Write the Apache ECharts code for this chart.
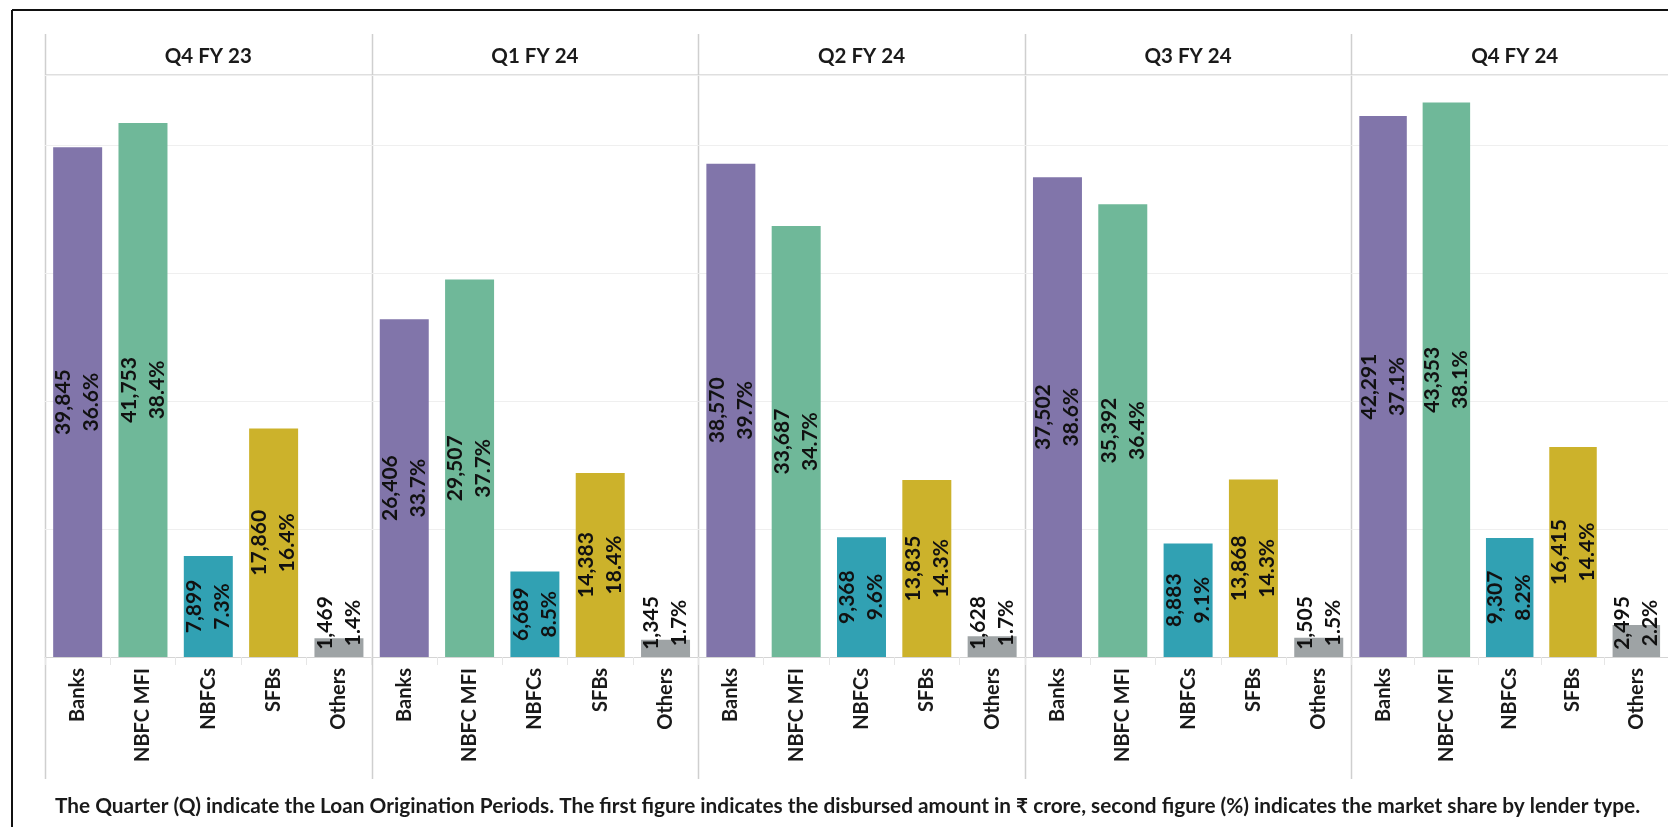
<!DOCTYPE html>
<html>
<head>
<meta charset="utf-8">
<title>Microfinance disbursements by lender type</title>
<script src="https://cdn.jsdelivr.net/npm/echarts@6/dist/echarts.min.js"></script>
<style>
  html, body { margin: 0; padding: 0; background: #ffffff; }
  #chart { width: 1668px; height: 827px; }
</style>
</head>
<body>
<div id="chart"></div>
<script>
// Quarters (panels) and lender types (bars within each panel)
const quarters = ['Q4 FY 23', 'Q1 FY 24', 'Q2 FY 24', 'Q3 FY 24', 'Q4 FY 24'];
const lenders = ['Banks', 'NBFC MFI', 'NBFCs', 'SFBs', 'Others'];

// Disbursed amount (₹ crore) per quarter, and market share (%)
const banks = [39845, 26406, 38570, 37502, 42291];
const banksShare = [36.6, 33.7, 39.7, 38.6, 37.1];
const nbfcMfi = [41753, 29507, 33687, 35392, 43353];
const nbfcMfiShare = [38.4, 37.7, 34.7, 36.4, 38.1];
const nbfcs = [7899, 6689, 9368, 8883, 9307];
const nbfcsShare = [7.3, 8.5, 9.6, 9.1, 8.2];
const sfbs = [17860, 14383, 13835, 13868, 16415];
const sfbsShare = [16.4, 18.4, 14.3, 14.3, 14.4];
const others = [1469, 1345, 1628, 1505, 2495];
const othersShare = [1.4, 1.7, 1.7, 1.5, 2.2];

const note = 'The Quarter (Q) indicate the Loan Origination Periods. The first figure indicates the disbursed amount in \u20B9 crore, second figure (%) indicates the market share by lender type.';

// Styling
const lenderColors = ['#8175aa', '#6fb899', '#31a1b3', '#ccb22b', '#9ea3a5'];
const FONT = 'Lato, "Open Sans", sans-serif';
const AXIS_MAX = 45500;
const AXIS_STEP = 10000;

// Panel geometry
const PANEL_LEFT = 45;
const PANEL_W = 326.6;
const PLOT_TOP = 75;
const PLOT_BOTTOM = 657;
const HEADER_TOP = 34;
const SEP_BOTTOM = 779;
const W = 1668, H = 827;

const amounts = [banks, nbfcMfi, nbfcs, sfbs, others];
const shares = [banksShare, nbfcMfiShare, nbfcsShare, sfbsShare, othersShare];

const fmt = v => v.toLocaleString('en-US');

const grids = [], xAxes = [], yAxes = [], series = [];
quarters.forEach((q, qi) => {
  grids.push({
    left: PANEL_LEFT + qi * PANEL_W,
    top: PLOT_TOP,
    width: PANEL_W,
    height: PLOT_BOTTOM - PLOT_TOP,
    containLabel: false
  });
  xAxes.push({
    type: 'category',
    gridIndex: qi,
    data: lenders,
    axisLine: { show: true, lineStyle: { color: '#d4d4d4', width: 1 } },
    axisTick: { show: true, length: 8, lineStyle: { color: '#e6e6e6' } },
    axisLabel: {
      rotate: 90,
      margin: 11,
      fontFamily: FONT,
      fontWeight: 'bold',
      fontSize: 20,
      color: '#1a1a1a'
    }
  });
  yAxes.push({
    type: 'value',
    gridIndex: qi,
    min: 0,
    max: AXIS_MAX,
    interval: AXIS_STEP,
    axisLine: { show: false },
    axisTick: { show: false },
    axisLabel: { show: false },
    splitLine: { show: true, lineStyle: { color: '#efefef', width: 1 } }
  });
  const data = lenders.map((name, li) => {
    const v = amounts[li][qi];
    // short bars cannot hold the text: anchor it just above the baseline
    const short = v < AXIS_MAX * 0.12;
    return {
      value: v,
      share: shares[li][qi],
      itemStyle: { color: lenderColors[li] },
      label: short
        ? { position: 'insideBottom', distance: 34 }
        : { position: 'inside' }
    };
  });
  series.push({
    type: 'bar',
    name: q,
    xAxisIndex: qi,
    yAxisIndex: qi,
    barCategoryGap: '25%',
    data: data,
    label: {
      show: true,
      rotate: 90,
      align: 'center',
      verticalAlign: 'middle',
      fontFamily: FONT,
      fontWeight: 'bold',
      fontSize: 21,
      lineHeight: 28,
      color: '#111111',
      formatter: p => fmt(p.data.value) + '\n' + p.data.share.toFixed(1) + '%'
    }
  });
});

// Frame, panel separators, header strip, panel titles and footnote
const graphics = [];
graphics.push({ type: 'line', shape: { x1: 12, y1: 10, x2: W, y2: 10 }, style: { stroke: '#111', lineWidth: 2 } });
graphics.push({ type: 'line', shape: { x1: 12, y1: 10, x2: 12, y2: H }, style: { stroke: '#111', lineWidth: 2 } });
graphics.push({ type: 'line', shape: { x1: PANEL_LEFT, y1: PLOT_TOP, x2: W, y2: PLOT_TOP }, style: { stroke: '#d4d4d4', lineWidth: 1.5 } });
quarters.forEach((q, qi) => {
  const x = Math.round(PANEL_LEFT + qi * PANEL_W) + 0.5;
  graphics.push({ type: 'line', shape: { x1: x, y1: HEADER_TOP, x2: x, y2: SEP_BOTTOM }, style: { stroke: '#cfcfcf', lineWidth: 1.5 } });
  graphics.push({
    type: 'text',
    style: {
      text: q,
      x: PANEL_LEFT + qi * PANEL_W + PANEL_W / 2,
      y: (HEADER_TOP + PLOT_TOP) / 2 + 2,
      align: 'center',
      verticalAlign: 'middle',
      font: 'bold 20.5px ' + FONT,
      fill: '#1a1a1a'
    }
  });
});
graphics.push({
  type: 'text',
  style: {
    text: note,
    x: 55,
    y: 806,
    align: 'left',
    verticalAlign: 'middle',
    font: 'bold 20.8px ' + FONT,
    fill: '#1a1a1a'
  }
});

const chart = echarts.init(document.getElementById('chart'), null, { renderer: 'canvas' });
chart.setOption({
  backgroundColor: '#ffffff',
  animation: false,
  grid: grids,
  xAxis: xAxes,
  yAxis: yAxes,
  series: series,
  graphic: graphics
});
</script>
</body>
</html>
